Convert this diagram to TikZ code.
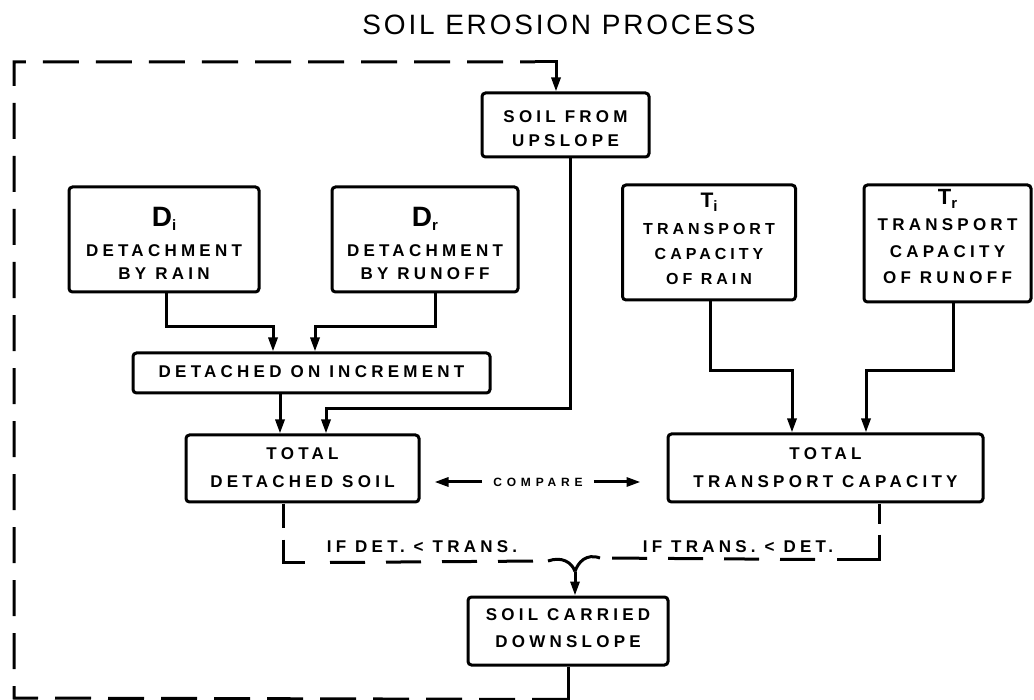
\documentclass[tikz,border=0pt]{standalone}
\usepackage{fontspec}
\setmainfont{Liberation Sans}
\newfontfamily\bxf[LetterSpace=25]{Liberation Sans}
\newfontfamily\titlef[LetterSpace=10]{Liberation Sans}
\newfontfamily\cmpf[LetterSpace=40]{Liberation Sans}
\usetikzlibrary{arrows.meta,calc}
\tikzset{
  box/.style={draw, line width=3pt, rounded corners=3.5pt, inner sep=0pt},
  lbl/.style={inner sep=0pt, anchor=base, font=\bxf\bfseries\fontsize{17}{17}\selectfont},
  lbls/.style={inner sep=0pt, anchor=base, font=\bxf\bfseries\fontsize{16}{16}\selectfont},
  conn/.style={line width=3pt},
  arr/.style={conn, -{Triangle[length=14pt,width=9pt]}},
  loopdash/.style={line width=3pt, dash pattern=on 36pt off 17pt},
  lowdash/.style={line width=3pt, dash pattern=on 35pt off 21pt},
}
\newcommand{\bigsym}[3]{{\fontsize{#3}{#3}\selectfont #1}\raisebox{-4pt}{\fontsize{15}{15}\selectfont #2}}
\begin{document}
\begin{tikzpicture}[x=1pt,y=-1pt]
\fill[white] (0,0) rectangle (1034,700);
\useasboundingbox (0,0) rectangle (1034,700);

% title
\node[inner sep=0pt, anchor=base, font=\titlef\fontsize{28}{28}\selectfont] (title) at (559,35) {SOIL EROSION PROCESS};

% boxes
\node[box, minimum width=167pt, minimum height=64pt] (up) at (565.5,125) {};
\node[box, minimum width=190pt, minimum height=105pt] (di) at (164,239.5) {};
\node[box, minimum width=186pt, minimum height=105pt] (dr) at (425,239.5) {};
\node[box, minimum width=173pt, minimum height=115pt] (ti) at (709,242.5) {};
\node[box, minimum width=167pt, minimum height=117pt] (tr) at (947.5,243.5) {};
\node[box, minimum width=357pt, minimum height=40pt] (doi) at (311.5,373) {};
\node[box, minimum width=233pt, minimum height=67pt] (tds) at (302.5,468.5) {};
\node[box, minimum width=315pt, minimum height=68pt] (ttc) at (825.5,468) {};
\node[box, minimum width=200pt, minimum height=68pt] (down) at (568,631) {};

% texts
\node[lbl] (up1) at (565.5,122.5) {SOIL FROM};
\node[lbl] (up2) at (565.5,147) {UPSLOPE};

\node[lbl] (di1) at (164,227) {\bigsym{D}{i}{28}};
\node[lbl] (di2) at (164,257) {DETACHMENT};
\node[lbl] (di3) at (164,280) {BY RAIN};

\node[lbl] (dr1) at (425,227) {\bigsym{D}{r}{28}};
\node[lbl] (dr2) at (425,257) {DETACHMENT};
\node[lbl] (dr3) at (425,280) {BY RUNOFF};

\node[lbls] (ti1) at (709,208) {\bigsym{T}{i}{21}};
\node[lbls] (ti2) at (709,235) {TRANSPORT};
\node[lbls] (ti3) at (709,260) {CAPACITY};
\node[lbls] (ti4) at (709,285) {OF RAIN};

\node[lbl] (tr1) at (947.5,205) {\bigsym{T}{r}{22}};
\node[lbl] (tr2) at (947.5,231) {TRANSPORT};
\node[lbl] (tr3) at (947.5,258) {CAPACITY};
\node[lbl] (tr4) at (947.5,284) {OF RUNOFF};

\node[lbl] (doi1) at (311.5,378) {DETACHED ON INCREMENT};

\node[lbl] (tds1) at (302.5,460) {TOTAL};
\node[lbl] (tds2) at (302.5,488) {DETACHED SOIL};

\node[lbl] (ttc1) at (825.5,460) {TOTAL};
\node[lbl] (ttc2) at (825.5,488) {TRANSPORT CAPACITY};

\node[lbl] (dn1) at (568,620) {SOIL CARRIED};
\node[lbl] (dn2) at (568,647) {DOWNSLOPE};

\node[inner sep=0pt, font=\cmpf\bfseries\fontsize{12}{12}\selectfont] (cmp) at (538,482) {COMPARE};

\node[lbl] (lab1) at (422,552) {IF DET. < TRANS.};
\node[lbl] (lab2) at (738,552) {IF TRANS. < DET.};

% connectors into detached on increment
\draw[arr] ([xshift=2pt]di.south) -- ++(0,33) -| ([xshift=-38.5pt]doi.north);
\draw[arr] ([xshift=10pt]dr.south) -- ++(0,33) -| ([xshift=3.5pt]doi.north);

% into total detached soil
\coordinate (a1) at ([xshift=-22.5pt]tds.north);
\coordinate (a2) at ([xshift=23.5pt]tds.north);
\draw[arr] (a1 |- doi.south) -- (a1);
\draw[arr] ([xshift=4.5pt]up.south) -- ++(0,250) -| (a2);

% into total transport capacity
\draw[arr] ([xshift=1.5pt]ti.south) -- ++(0,69) -| ([xshift=-33.5pt]ttc.north);
\draw[arr] ([xshift=5.5pt]tr.south) -- ++(0,67) -| ([xshift=40.5pt]ttc.north);

% compare arrows
\draw[arr] ($(cmp.west)+(-11,0)$) -- ($(tds.east |- cmp.west)+(14,0)$);
\draw[arr] ($(cmp.east)+(11,0)$) -- ($(ttc.west |- cmp.east)+(-26,0)$);

% lower branches
\coordinate (d1) at ($(tds.south)+(-19.5,0)$);
\coordinate (e1) at ($(ttc.south)+(53.5,0)$);
\coordinate (m) at ($(down.north)+(7,-24)$);
\coordinate (lc) at (548,561);
\coordinate (rc) at (600,558);
\draw[conn] (d1) -- ++(0,24);
\draw[conn] ($(d1)+(0,36)$) -- ($(d1)+(0,59)$) -- ($(d1)+(22,59)$);
\draw[lowdash] ($(d1)+(47,59)$) -- ($(lc)+(-6,0)$);
\draw[conn] (lc) .. controls +(14,-5) and +(-3,-9) .. (m);
\draw[conn] (e1) -- ++(0,20);
\draw[conn] ($(e1)+(0,31)$) -- ($(e1)+(0,56)$) -- ($(e1)+(-42,56)$);
\draw[lowdash] ($(e1)+(-64,56)$) -- ($(rc)+(4,0)$);
\draw[conn] (rc) .. controls +(-14,-5) and +(3,-9) .. (m);
\draw[arr] (m) -- ([xshift=7pt]down.north);

% feedback loop
\coordinate (bl) at ($(down.south)+(0,33)$);
\draw[conn] (down.south) -- (bl);
\draw[loopdash] (bl) -- (14,698) -- (14,62) -- (535,62);
\draw[arr] (535,62) -- ([xshift=-9.5pt]up.north |- 0,62) -- ([xshift=-9.5pt]up.north);
\end{tikzpicture}
\end{document}
